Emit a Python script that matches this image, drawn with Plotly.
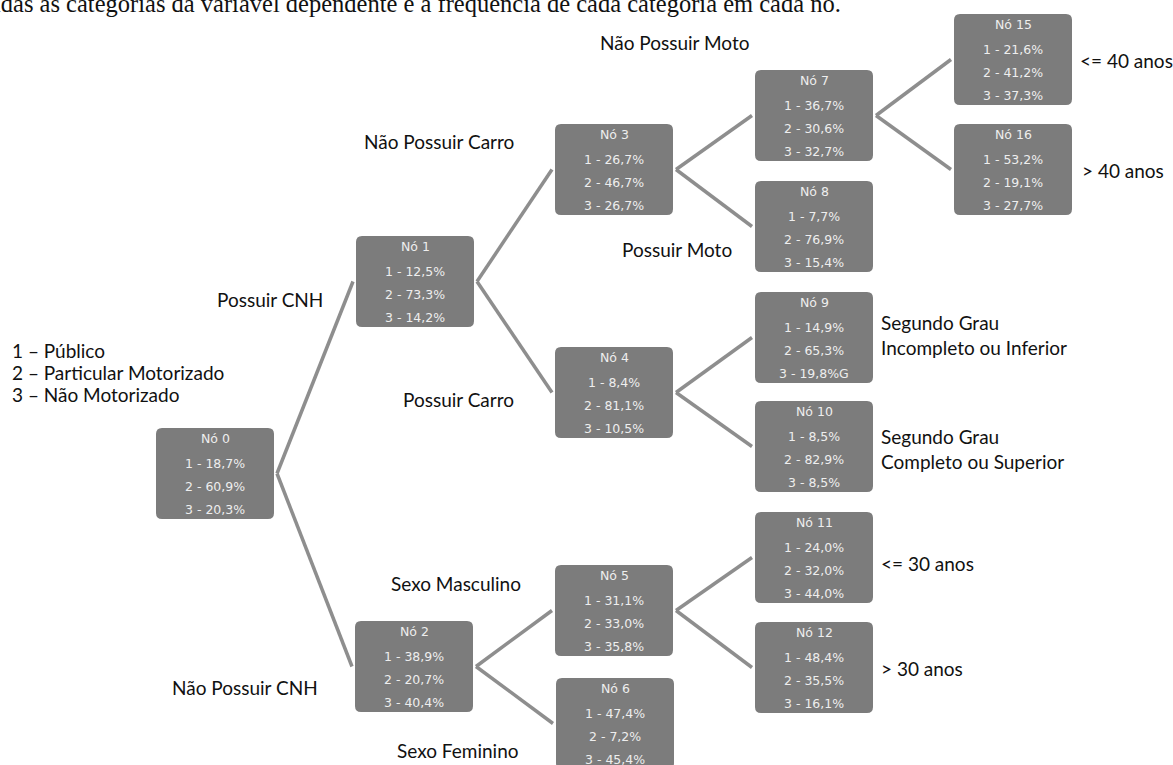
import plotly.graph_objects as go

# ---------------- data ----------------
node_ids = [0, 1, 2, 3, 4, 5, 6, 7, 8, 9, 10, 11, 12, 15, 16]
pct_publico = [18.7, 12.5, 38.9, 26.7, 8.4, 31.1, 47.4, 36.7, 7.7, 14.9, 8.5, 24.0, 48.4, 21.6, 53.2]
pct_particular = [60.9, 73.3, 20.7, 46.7, 81.1, 33.0, 7.2, 30.6, 76.9, 65.3, 82.9, 32.0, 35.5, 41.2, 19.1]
pct_nao_motor = [20.3, 14.2, 40.4, 26.7, 10.5, 35.8, 45.4, 32.7, 15.4, 19.8, 8.5, 44.0, 16.1, 37.3, 27.7]
row3_suffix = {9: "G"}  # as printed in the original

edges = [(0, 1), (0, 2), (1, 3), (1, 4), (2, 5), (2, 6), (3, 7), (3, 8),
         (4, 9), (4, 10), (5, 11), (5, 12), (7, 15), (7, 16)]

split_labels = ["Não Possuir Moto", "Não Possuir Carro", "Possuir CNH", "Possuir Moto",
                "Possuir Carro", "Segundo Grau<br>Incompleto ou Inferior",
                "Segundo Grau<br>Completo ou Superior", "<= 40 anos", "> 40 anos",
                "<= 30 anos", "> 30 anos", "Sexo Masculino", "Não Possuir CNH", "Sexo Feminino"]

legend_lines = ["1 – Público", "2 – Particular Motorizado", "3 – Não Motorizado"]
caption = "idas as categorias da variável dependente e a frequência de cada categoria em cada nó."

# ---------------- layout (pixel positions) ----------------
W, H = 1173, 765
BW, BH = 118, 91
box_pos = {0: (156, 428), 1: (356, 236), 2: (355, 621), 3: (555, 124), 4: (555, 347),
           5: (555, 565), 6: (556, 678), 7: (755, 70), 8: (755, 181), 9: (755, 292),
           10: (755, 401), 11: (755, 512), 12: (755, 622), 15: (954, 14), 16: (954, 124)}
label_pos = [(598, 42), (362, 141), (215, 299), (620, 249), (401, 399), (879, 335),
             (879, 449), (1078, 60), (1080, 170), (879, 563), (879, 668), (389, 583),
             (170, 687), (395, 750)]

BOX_FILL = "#7c7c7c"
BOX_TEXT = "#eeeeee"
LINE_COL = "#8e8e8e"
LABEL_FONT = dict(family="Lato, Open Sans, sans-serif", size=19, color="#111111")
BOX_FONT = dict(family="DejaVu Sans", size=12.5, color=BOX_TEXT)


def rounded_rect(x0, y0, x1, y1, r=6):
    return (f"M {x0+r},{y0} L {x1-r},{y0} Q {x1},{y0} {x1},{y0+r} "
            f"L {x1},{y1-r} Q {x1},{y1} {x1-r},{y1} L {x0+r},{y1} "
            f"Q {x0},{y1} {x0},{y1-r} L {x0},{y0+r} Q {x0},{y0} {x0+r},{y0} Z")


def fmt(v):
    return f"{v:.1f}".replace(".", ",")


fig = go.Figure()
fig.add_trace(go.Scatter(x=[0, W], y=[0, H], mode="markers",
                         marker=dict(opacity=0), hoverinfo="skip", showlegend=False))

shapes = []
annotations = []

# edges
for p, c in edges:
    px, py = box_pos[p]
    cx, cy = box_pos[c]
    shapes.append(dict(type="line", xref="x", yref="y",
                       x0=px + BW + 3, y0=py + BH / 2,
                       x1=cx - 3, y1=cy + BH / 2,
                       line=dict(color=LINE_COL, width=3.5), layer="below"))

# boxes
for i, nid in enumerate(node_ids):
    x0, y0 = box_pos[nid]
    shapes.append(dict(type="path", xref="x", yref="y",
                       path=rounded_rect(x0, y0, x0 + BW, y0 + BH),
                       fillcolor=BOX_FILL, line=dict(width=0), layer="above"))
    rows = [f"Nó {nid}",
            f"1 - {fmt(pct_publico[i])}%",
            f"2 - {fmt(pct_particular[i])}%",
            f"3 - {fmt(pct_nao_motor[i])}%{row3_suffix.get(nid, '')}"]
    offsets = [10, 35, 58, 81]
    for txt, off in zip(rows, offsets):
        annotations.append(dict(x=x0 + BW / 2, y=y0 + off, xref="x", yref="y",
                                text=txt, showarrow=False, font=BOX_FONT,
                                xanchor="center", yanchor="middle"))

# split labels
for txt, (lx, ly) in zip(split_labels, label_pos):
    annotations.append(dict(x=lx, y=ly, xref="x", yref="y", text=txt, showarrow=False,
                            font=LABEL_FONT, xanchor="left", yanchor="middle", align="left"))

# legend text
for k, txt in enumerate(legend_lines):
    annotations.append(dict(x=10, y=350 + 22 * k, xref="x", yref="y", text=txt,
                            showarrow=False, font=LABEL_FONT, xanchor="left", yanchor="middle"))

# caption at the top, partially cut off by the page edge (as in the original)
annotations.append(dict(x=0, y=1, xref="paper", yref="paper", text=caption, showarrow=False,
                        font=dict(family="Liberation Serif, Times New Roman, serif", size=24.5,
                                  color="#111111"),
                        xanchor="left", yanchor="top", xshift=-8, yshift=12))

fig.update_layout(
    width=W, height=H,
    margin=dict(l=0, r=0, t=0, b=0),
    paper_bgcolor="white", plot_bgcolor="white",
    xaxis=dict(range=[0, W], visible=False, fixedrange=True),
    yaxis=dict(range=[H, 0], visible=False, fixedrange=True),
    shapes=shapes, annotations=annotations,
    showlegend=False,
)

fig.write_html("out.html", config={"displayModeBar": False},
               post_script="document.body.style.margin='0';document.body.style.overflow='hidden';")
